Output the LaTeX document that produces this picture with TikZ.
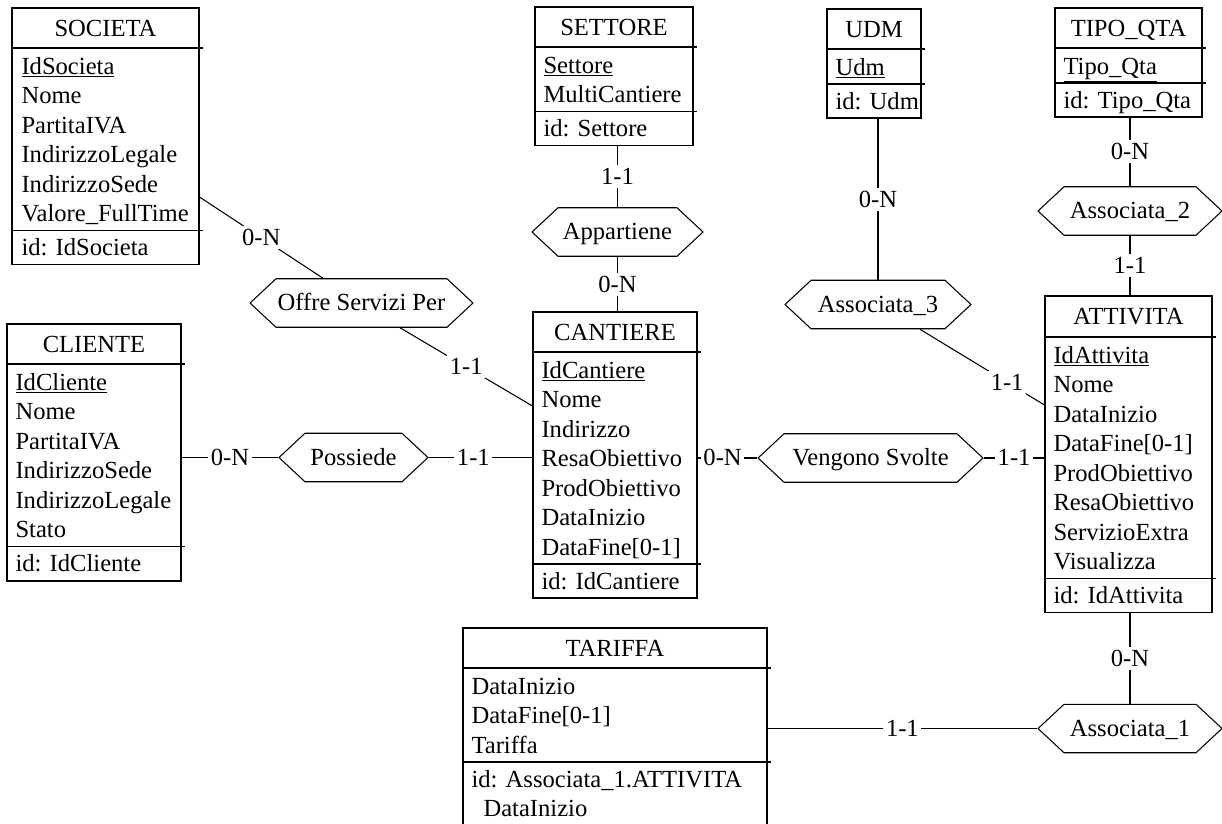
\documentclass[tikz,border=0pt]{standalone}
\usepackage{fontspec}
\setmainfont{Liberation Serif}
\usetikzlibrary{positioning,fit,calc,shapes.symbols}

\tikzset{
  every node/.style={font=\fontsize{14}{17}\selectfont},
  ebox/.style={draw, inner sep=0pt},
  etitle/.style={anchor=base, inner sep=0pt, yshift=-4.6pt},
  attr/.style={anchor=base west, inner sep=0pt, yshift=-4.6pt},
  rel/.style={draw, signal, signal to=west and east, signal pointer angle=86,
    minimum height=0.97cm, inner sep=0pt, text height=9.5pt, text depth=0.5pt},
  card/.style={fill=white, inner sep=1.5pt, text height=9.5pt, text depth=0.5pt},
}

\begin{document}
\begin{tikzpicture}[x=0.02cm,y=-0.02cm,line width=0.6pt]
  \useasboundingbox (0,0) rectangle (1222,823);
  \clip (0,0) rectangle (1222,823);

  % entities
  \node[ebox, fit={(12,8) (199,264.5)}] (societa) {};
  \node[etitle] (societa-t) at (105.5,28) {SOCIETA};
  \draw (12,48) -- (203,48);
  \foreach \a [count=\i from 0] in {\underline{IdSocieta},Nome,PartitaIVA,IndirizzoLegale,IndirizzoSede,Valore\_FullTime}
    \node[attr] (societa-\i) at (21,66+29.5*\i) {\a};
  \draw (12,230.5) -- (203,230.5);
  \node[attr] (societa-id) at (21,247.5) {id: IdSocieta};

  \node[ebox, fit={(535,7) (693,145.5)}] (settore) {};
  \node[etitle] (settore-t) at (614,27) {SETTORE};
  \draw (535,47) -- (697,47);
  \foreach \a [count=\i from 0] in {\underline{Settore},MultiCantiere}
    \node[attr] (settore-\i) at (543,65+29.5*\i) {\a};
  \draw (535,111.5) -- (697,111.5);
  \node[attr] (settore-id) at (543,128.5) {id: Settore};

  \node[ebox, fit={(827,9) (921,118)}] (udm) {};
  \node[etitle] (udm-t) at (874,29) {UDM};
  \draw (827,49) -- (925,49);
  \node[attr] (udm-0) at (835,67) {\underline{Udm}};
  \draw (827,84) -- (925,84);
  \node[attr] (udm-id) at (835,101) {id: Udm};

  \node[ebox, fit={(1055,8) (1202,117)}] (tipoqta) {};
  \node[etitle] (tipoqta-t) at (1128.5,28) {TIPO\_QTA};
  \draw (1055,48) -- (1206,48);
  \node[attr] (tipoqta-0) at (1063,66) {\underline{Tipo\_Qta}};
  \draw (1055,83) -- (1206,83);
  \node[attr] (tipoqta-id) at (1063,100) {id: Tipo\_Qta};

  \node[ebox, fit={(7,324) (181,581)}] (cliente) {};
  \node[etitle] (cliente-t) at (94,344) {CLIENTE};
  \draw (7,364) -- (185,364);
  \foreach \a [count=\i from 0] in {\underline{IdCliente},Nome,PartitaIVA,IndirizzoSede,IndirizzoLegale,Stato}
    \node[attr] (cliente-\i) at (15,382+29.5*\i) {\a};
  \draw (7,546.5) -- (185,546.5);
  \node[attr] (cliente-id) at (15,563.5) {id: IdCliente};

  \node[ebox, fit={(533,312) (697,598)}] (cantiere) {};
  \node[etitle] (cantiere-t) at (615,332) {CANTIERE};
  \draw (533,352) -- (701,352);
  \foreach \a [count=\i from 0] in {\underline{IdCantiere},Nome,Indirizzo,ResaObiettivo,ProdObiettivo,DataInizio,{DataFine[0-1]}}
    \node[attr] (cantiere-\i) at (541,370+29.5*\i) {\a};
  \draw (533,564) -- (701,564);
  \node[attr] (cantiere-id) at (541,581) {id: IdCantiere};

  \node[ebox, fit={(1045,296) (1212,612.5)}] (attivita) {};
  \node[etitle] (attivita-t) at (1128.5,316.5) {ATTIVITA};
  \draw (1045,337) -- (1216,337);
  \foreach \a [count=\i from 0] in {\underline{IdAttivita},Nome,DataInizio,{DataFine[0-1]},ProdObiettivo,ResaObiettivo,ServizioExtra,Visualizza}
    \node[attr] (attivita-\i) at (1053,355+29.5*\i) {\a};
  \draw (1045,578.5) -- (1216,578.5);
  \node[attr] (attivita-id) at (1053,595.5) {id: IdAttivita};

  \node[ebox, fit={(463,628) (767,840)}] (tariffa) {};
  \node[etitle] (tariffa-t) at (615,648) {TARIFFA};
  \draw (463,668) -- (771,668);
  \foreach \a [count=\i from 0] in {DataInizio,{DataFine[0-1]},Tariffa}
    \node[attr] (tariffa-\i) at (471,686+29.5*\i) {\a};
  \draw (463,762) -- (771,762);
  \node[attr] (tariffa-id) at (471,779) {id: Associata\_1.ATTIVITA};
  \node[attr] (tariffa-id2) at (483,808.5) {DataInizio};

  % relationships
  \node[rel, minimum width=4.46cm] (offre) at (361.5,303) {Offre Servizi Per};
  \node[rel, minimum width=3.42cm] (appartiene) at (617.5,232) {Appartiene};
  \node[rel, minimum width=2.98cm] (possiede) at (353.5,457.5) {Possiede};
  \node[rel, minimum width=3.72cm] (assoc3) at (878,304.5) {Associata\_3};
  \node[rel, minimum width=4.5cm] (vengono) at (870.5,458) {Vengono Svolte};
  \node[rel, minimum width=3.68cm] (assoc2) at (1130,211) {Associata\_2};
  \node[rel, minimum width=3.68cm] (assoc1) at (1130,728.5) {Associata\_1};

  % links
  \draw ($(societa.east)+(0,60.75)$) -- node[card] {0-N} ($(offre.north)+(-38.5,0)$);
  \draw ($(offre.south)+(38.5,0)$) -- node[card] {1-1} ($(cantiere.west)+(0,-49)$);
  \draw (appartiene.north |- settore.south) -- node[card] {1-1} (appartiene.north);
  \draw (appartiene.south) -- node[card] {0-N} (appartiene.south |- cantiere.north);
  \draw (possiede.west -| cliente.east) -- node[card] {0-N} (possiede.west);
  \draw (possiede.east) -- node[card, pos=0.43] {1-1} (possiede.east -| cantiere.west);
  \draw (vengono.west -| cantiere.east) -- node[card, pos=0.42] {0-N} (vengono.west);
  \draw (vengono.east) -- node[card] {1-1} (vengono.east -| attivita.west);
  \draw (assoc3.north |- udm.south) -- node[card] {0-N} (assoc3.north);
  \draw ($(assoc3.south)+(42,0)$) -- node[card, pos=0.7] {1-1} ($(attivita.west)+(0,-49.25)$);
  \draw (assoc2.north |- tipoqta.south) -- node[card] {0-N} (assoc2.north);
  \draw (assoc2.south) -- node[card] {1-1} (assoc2.south |- attivita.north);
  \draw (assoc1.north |- attivita.south) -- node[card] {0-N} (assoc1.north);
  \draw (assoc1.west -| tariffa.east) -- node[card] {1-1} (assoc1.west);
\end{tikzpicture}
\end{document}
